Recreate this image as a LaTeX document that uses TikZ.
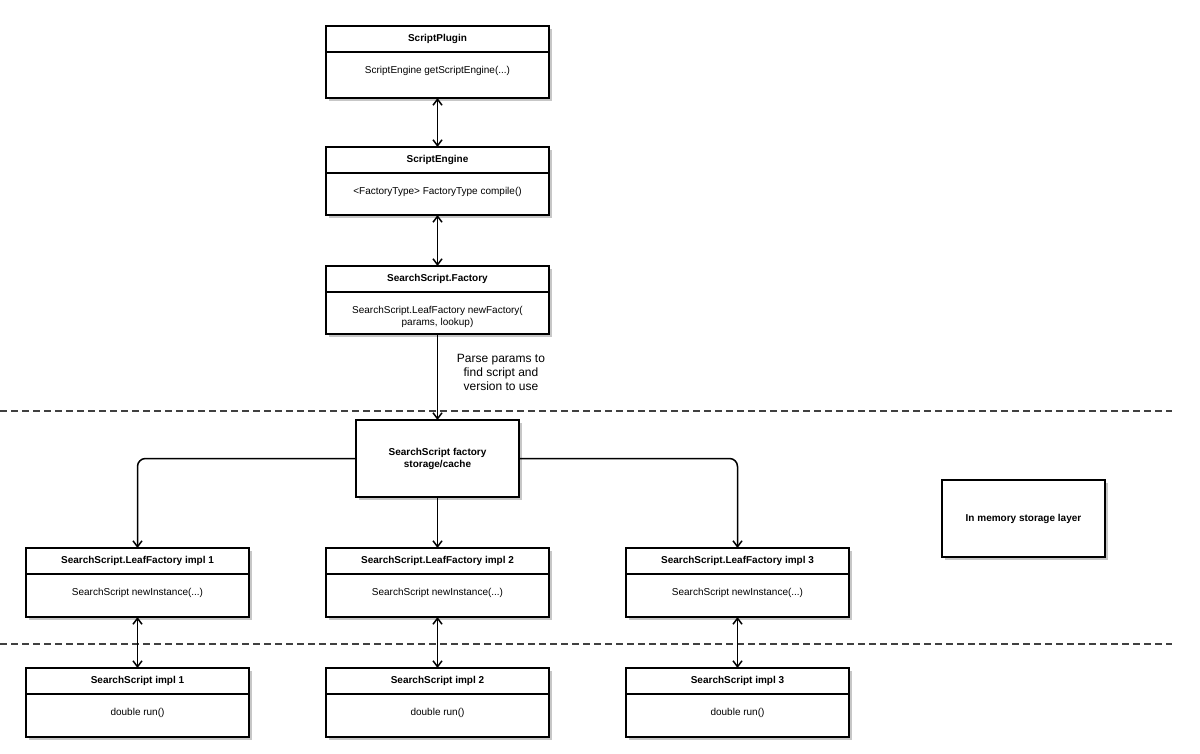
\documentclass[tikz,border=0pt]{standalone}
\usepackage{fontspec}
\setmainfont{Liberation Sans}
\usetikzlibrary{arrows.meta,shadows,positioning}
\tikzset{
  boxshadow/.style={drop shadow={shadow xshift=3pt,shadow yshift=-3pt,fill=black!22,opacity=1}},
  hdr/.style={draw, line width=1.6pt, fill=white, minimum width=223pt, minimum height=26pt,
    inner sep=0pt, outer sep=0pt, anchor=north west, font=\bfseries\fontsize{10}{12}\selectfont, boxshadow},
  body/.style={draw, line width=1.6pt, fill=white, minimum width=223pt, inner sep=0pt, outer sep=0pt, boxshadow},
  btxt/.style={inner sep=0pt, align=center, font=\fontsize{10}{12}\selectfont},
  plainbox/.style={draw, line width=1.6pt, fill=white, inner sep=0pt, outer sep=0pt, align=center,
    font=\bfseries\fontsize{10}{12}\selectfont, boxshadow},
  arr/.style={line width=1.5pt, -{Straight Barb[length=6pt,width=9pt]}},
  darr/.style={line width=1.5pt, {Straight Barb[length=6pt,width=9pt]}-{Straight Barb[length=6pt,width=9pt]}},
  sep/.style={line width=1.1pt, black!75, dash pattern=on 7pt off 4pt},
  lbl/.style={inner sep=0pt, align=center, font=\fontsize{12}{14}\selectfont}
}
\newcommand\umlbox[6]{%
  \node[hdr] (#1h) at (#2,#3) {#4};
  \node[body, minimum height=#5pt, anchor=north] (#1b) at (#1h.south) {};
  \node[btxt, anchor=north] (#1t) at ([yshift=-14pt]#1b.north) {#6};
}
\begin{document}
\begin{tikzpicture}[x=1pt,y=-1pt]
\useasboundingbox[fill=white] (0,0) rectangle (1200,754);
% separators
\draw[sep] (0,411) coordinate (s1a) -- (1172,411) coordinate (s1b);
\draw[sep] (0,644) coordinate (s2a) -- (1172,644) coordinate (s2b);
% top chain
\umlbox{sp}{326}{26}{ScriptPlugin}{46}{ScriptEngine getScriptEngine(...)}
\umlbox{se}{326}{147}{ScriptEngine}{42}{<FactoryType> FactoryType compile()}
\umlbox{sf}{326}{266}{SearchScript.Factory}{42}{SearchScript.LeafFactory newFactory(\\params, lookup)}
% storage
\node[plainbox, minimum width=163pt, minimum height=77pt] (st) at (437.5,458.5) {SearchScript factory\\storage/cache};
\node[plainbox, minimum width=163pt, minimum height=77pt] (mem) at (1023.5,518.5) {In memory storage layer};
% leaf factories
\umlbox{lf1}{26}{548}{SearchScript.LeafFactory impl 1}{43}{SearchScript newInstance(...)}
\umlbox{lf2}{326}{548}{SearchScript.LeafFactory impl 2}{43}{SearchScript newInstance(...)}
\umlbox{lf3}{626}{548}{SearchScript.LeafFactory impl 3}{43}{SearchScript newInstance(...)}
% impls
\umlbox{im1}{26}{668}{SearchScript impl 1}{43}{double run()}
\umlbox{im2}{326}{668}{SearchScript impl 2}{43}{double run()}
\umlbox{im3}{626}{668}{SearchScript impl 3}{43}{double run()}
% connectors
\draw[darr] (spb.south) -- (seh.north);
\draw[darr] (seb.south) -- (sfh.north);
\draw[arr] (sfb.south) -- (st.north);
\node[lbl] (parse) at (501,372) {Parse params to\\find script and\\version to use};
\draw[arr, rounded corners=8pt] (st.west) -| (lf1h.north);
\draw[arr, rounded corners=8pt] (st.east) -| (lf3h.north);
\draw[arr] (st.south) -- (lf2h.north);
\draw[darr] (lf1b.south) -- (im1h.north);
\draw[darr] (lf2b.south) -- (im2h.north);
\draw[darr] (lf3b.south) -- (im3h.north);
\end{tikzpicture}
\end{document}
